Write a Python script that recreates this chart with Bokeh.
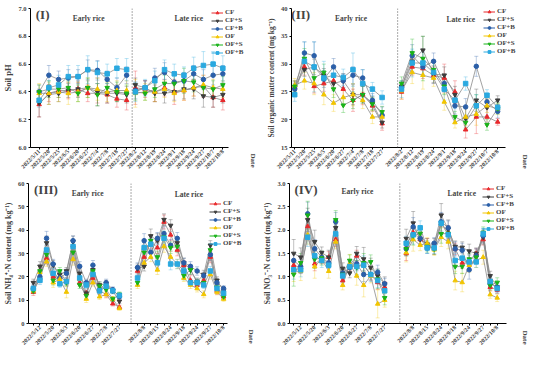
import math
from bokeh.plotting import figure
from bokeh.models import (ColumnDataSource, Whisker, TeeHead, FixedTicker, Span, Label,
                          Legend, LegendItem, Range1d, NumeralTickFormatter, Title)
from bokeh.layouts import row, column
from bokeh.embed import file_html
from bokeh.resources import INLINE

SERIES = ["CF", "CF+S", "CF+B", "OF", "OF+S", "OF+B"]
COLORS = ["#e8282b", "#3d3d3d", "#2b5fa8", "#f2c500", "#19b219", "#2aa9e0"]
MARKERS = ["triangle", "inverted_triangle", "circle", "triangle", "inverted_triangle", "square"]

# ---- dates ----
dates_early_10 = ["2022/5/11", "2022/5/20", "2022/5/25", "2022/6/5", "2022/6/20",
                  "2022/6/27", "2022/7/4", "2022/7/8", "2022/7/18", "2022/7/27"]
dates_late_10 = ["2022/8/2", "2022/8/12", "2022/8/19", "2022/8/24", "2022/9/1",
                 "2022/9/18", "2022/9/24", "2022/9/27", "2022/10/7", "2022/10/8"]
dates_early_14 = ["", "2022/5/12", "", "2022/5/20", "", "2022/6/3", "", "2022/6/20",
                  "", "2022/6/27", "", "2022/7/8", "", "2022/7/27"]
dates_late_14 = ["", "2022/8/8", "", "2022/8/15", "", "2022/8/24", "", "2022/9/18",
                 "", "2022/9/24", "", "2022/9/27", "", "2022/10/8"]

# ---- (I) soil pH : 10 early + 10 late ----
ph_cf = [6.31, 6.39, 6.41, 6.41, 6.42, 6.39, 6.39, 6.38, 6.35, 6.34,
         6.43, 6.42, 6.40, 6.43, 6.40, 6.41, 6.43, 6.44, 6.36, 6.34]
ph_cfs = [6.32, 6.38, 6.39, 6.41, 6.42, 6.43, 6.40, 6.39, 6.39, 6.38,
          6.45, 6.43, 6.39, 6.39, 6.40, 6.42, 6.42, 6.37, 6.36, 6.38]
ph_cfb = [6.40, 6.52, 6.49, 6.50, 6.51, 6.56, 6.555, 6.49, 6.43, 6.52,
          6.41, 6.43, 6.50, 6.54, 6.47, 6.48, 6.53, 6.49, 6.52, 6.53]
ph_of = [6.39, 6.39, 6.40, 6.39, 6.40, 6.43, 6.42, 6.40, 6.41, 6.41,
         6.39, 6.40, 6.40, 6.42, 6.39, 6.41, 6.43, 6.45, 6.43, 6.42]
ph_ofs = [6.40, 6.42, 6.42, 6.43, 6.39, 6.43, 6.38, 6.43, 6.40, 6.39,
          6.40, 6.39, 6.42, 6.46, 6.46, 6.48, 6.47, 6.43, 6.42, 6.45]
ph_ofb = [6.34, 6.43, 6.45, 6.51, 6.51, 6.56, 6.54, 6.53, 6.57, 6.56,
          6.40, 6.43, 6.48, 6.56, 6.53, 6.52, 6.57, 6.59, 6.60, 6.57]
ph_cf_err = [0.09, 0.06, 0.05, 0.06, 0.05, 0.06, 0.07, 0.06, 0.06, 0.07,
             0.12, 0.06, 0.07, 0.06, 0.09, 0.07, 0.06, 0.08, 0.07, 0.07]
ph_cfs_err = [0.10, 0.07, 0.06, 0.05, 0.06, 0.05, 0.10, 0.07, 0.06, 0.06,
              0.05, 0.05, 0.06, 0.07, 0.06, 0.07, 0.07, 0.08, 0.07, 0.06]
ph_cfb_err = [0.05, 0.07, 0.06, 0.06, 0.05, 0.07, 0.07, 0.06, 0.07, 0.06,
              0.06, 0.05, 0.07, 0.07, 0.06, 0.06, 0.06, 0.07, 0.07, 0.06]
ph_of_err = [0.07, 0.08, 0.07, 0.08, 0.07, 0.07, 0.08, 0.07, 0.07, 0.07,
             0.10, 0.06, 0.07, 0.06, 0.06, 0.07, 0.06, 0.07, 0.06, 0.06]
ph_ofs_err = [0.05, 0.06, 0.06, 0.05, 0.06, 0.07, 0.08, 0.06, 0.07, 0.06,
              0.06, 0.05, 0.06, 0.06, 0.07, 0.09, 0.07, 0.06, 0.06, 0.06]
ph_ofb_err = [0.05, 0.05, 0.07, 0.08, 0.08, 0.10, 0.08, 0.07, 0.07, 0.08,
              0.07, 0.06, 0.07, 0.07, 0.07, 0.06, 0.08, 0.10, 0.09, 0.09]

# ---- (II) soil organic matter ----
som_cf = [25.8, 29.5, 26.0, 26.5, 27.0, 25.5, 23.5, 24.5, 22.5, 19.3,
          25.0, 29.5, 29.2, 28.0, 27.5, 25.0, 18.2, 20.5, 20.5, 19.6]
som_cfs = [25.8, 29.0, 29.5, 28.0, 26.5, 27.0, 24.5, 24.5, 23.0, 19.5,
           26.0, 30.5, 32.5, 28.2, 28.0, 24.5, 20.2, 23.5, 22.2, 23.5]
som_cfb = [25.5, 32.0, 31.5, 27.3, 29.5, 27.0, 28.0, 27.5, 23.5, 20.8,
           25.8, 31.5, 29.5, 30.5, 26.5, 22.5, 22.3, 29.6, 23.2, 21.5]
som_of = [26.2, 27.0, 26.5, 24.5, 23.0, 24.0, 24.5, 23.5, 20.5, 20.5,
          25.2, 28.5, 28.0, 27.5, 23.2, 19.5, 20.5, 21.0, 22.5, 22.0]
som_ofs = [26.0, 31.0, 27.5, 28.5, 25.5, 22.6, 23.5, 24.5, 22.8, 21.4,
           26.5, 32.0, 31.0, 29.0, 26.0, 20.5, 19.5, 22.5, 19.1, 22.0]
som_ofb = [24.5, 30.5, 29.5, 27.5, 28.0, 27.6, 29.0, 26.5, 25.5, 24.0,
           25.5, 30.2, 30.2, 28.5, 25.5, 23.5, 26.5, 22.5, 24.4, 22.2]
som_cf_err = [1.2, 1.5, 1.2, 1.4, 1.3, 1.5, 2.0, 1.8, 1.0, 1.2,
              1.3, 1.5, 1.8, 1.5, 2.5, 2.0, 1.5, 3.0, 1.5, 0.6]
som_cfs_err = [1.0, 1.2, 1.4, 1.2, 1.3, 1.3, 1.8, 1.5, 1.2, 1.0,
               1.0, 1.8, 2.5, 1.5, 1.5, 1.5, 2.0, 2.0, 1.5, 0.8]
som_cfb_err = [1.0, 2.0, 2.5, 1.5, 1.5, 1.2, 1.5, 1.5, 1.2, 1.5,
               1.0, 2.0, 1.5, 1.5, 1.5, 1.5, 1.5, 1.8, 1.2, 1.2]
som_of_err = [1.2, 1.5, 2.0, 1.8, 1.5, 1.5, 2.0, 1.5, 1.2, 1.0,
              1.5, 2.0, 2.5, 1.5, 1.5, 1.0, 1.5, 2.0, 1.2, 1.0]
som_ofs_err = [1.0, 1.8, 1.5, 1.5, 1.5, 1.3, 1.5, 1.5, 1.2, 1.0,
               1.2, 2.5, 4.0, 1.5, 1.5, 1.0, 1.0, 2.0, 1.0, 1.0]
som_ofb_err = [1.2, 3.5, 4.5, 3.0, 1.5, 1.5, 3.0, 2.5, 1.2, 1.2,
               1.5, 2.5, 2.0, 2.0, 2.0, 1.5, 1.2, 2.0, 1.0, 1.0]

# ---- (III) soil NH4+-N : 14 early + 14 late ----
nh_cf = [13.5, 19.5, 28.0, 20.0, 20.0, 18.0, 33.5, 17.5, 13.0, 19.5, 14.0, 12.5, 8.5, 7.0,
         22.5, 28.5, 35.0, 32.5, 43.5, 38.0, 31.5, 25.0, 18.5, 16.5, 18.5, 28.5, 14.0, 11.5]
nh_cfs = [17.5, 24.5, 34.5, 25.0, 21.0, 22.5, 35.0, 21.5, 13.0, 23.0, 16.5, 17.0, 14.0, 9.5,
          23.5, 24.5, 37.5, 35.5, 44.5, 42.0, 34.5, 26.0, 23.0, 18.0, 21.0, 33.5, 18.5, 14.0]
nh_cfb = [15.0, 20.0, 36.5, 25.5, 19.5, 21.5, 35.5, 24.5, 17.5, 25.0, 14.5, 17.5, 14.5, 11.5,
          24.0, 35.5, 30.5, 36.5, 38.5, 33.5, 36.5, 26.0, 24.5, 22.5, 20.5, 29.5, 17.5, 15.0]
nh_of = [14.0, 22.0, 26.5, 17.5, 19.0, 13.5, 27.5, 19.0, 10.5, 17.5, 11.5, 12.5, 10.5, 6.5,
         16.5, 26.0, 28.5, 23.0, 33.0, 28.5, 25.5, 19.5, 16.5, 15.0, 12.5, 21.0, 13.5, 10.5]
nh_ofs = [14.0, 22.5, 29.5, 18.5, 22.5, 17.5, 30.5, 16.5, 12.0, 22.5, 16.0, 14.5, 10.5, 12.5,
          17.5, 30.5, 35.5, 28.5, 37.0, 32.5, 33.0, 20.5, 23.0, 17.5, 17.5, 31.5, 15.5, 11.5]
nh_ofb = [15.0, 18.5, 31.5, 21.5, 17.0, 18.0, 33.0, 19.5, 16.5, 21.0, 14.0, 16.0, 14.0, 12.0,
          19.5, 32.5, 34.0, 26.0, 36.5, 25.5, 25.5, 22.5, 17.5, 17.5, 16.5, 22.5, 15.0, 13.0]
nh_cf_err = [1.5, 2.0, 2.5, 2.0, 1.5, 1.5, 2.0, 1.5, 1.2, 2.0, 1.5, 1.5, 1.0, 0.8,
             2.0, 2.5, 3.0, 2.5, 3.0, 2.5, 2.5, 2.0, 2.0, 1.5, 1.5, 2.5, 1.5, 1.0]
nh_cfs_err = [1.5, 2.0, 3.0, 2.0, 1.8, 1.5, 2.5, 2.0, 1.2, 2.0, 1.5, 1.5, 1.2, 1.0,
              2.0, 2.0, 3.0, 3.0, 2.5, 2.5, 2.0, 2.0, 2.0, 1.5, 1.8, 2.0, 1.5, 1.2]
nh_cfb_err = [1.5, 2.0, 3.0, 2.0, 1.5, 1.8, 2.0, 2.0, 1.5, 2.0, 1.5, 1.5, 1.2, 1.0,
              2.0, 3.0, 2.5, 2.5, 3.0, 2.5, 2.5, 2.0, 2.0, 1.8, 1.5, 2.5, 1.5, 1.2]
nh_of_err = [1.2, 2.0, 2.0, 2.0, 1.8, 2.5, 2.5, 1.5, 1.5, 1.5, 1.2, 1.2, 1.0, 0.8,
             1.5, 2.0, 2.0, 2.0, 2.5, 2.5, 2.0, 1.5, 1.5, 1.5, 1.5, 2.0, 1.2, 1.0]
nh_ofs_err = [1.2, 2.0, 2.5, 2.0, 1.5, 1.5, 2.5, 1.5, 1.2, 2.0, 1.5, 1.5, 1.0, 1.0,
              1.5, 2.5, 2.5, 2.5, 2.5, 2.5, 2.5, 1.8, 1.8, 1.5, 1.5, 2.5, 1.2, 1.0]
nh_ofb_err = [1.5, 1.8, 2.5, 2.0, 1.5, 1.5, 3.0, 2.0, 1.5, 2.0, 1.5, 1.5, 1.2, 1.0,
              1.5, 2.5, 2.5, 2.5, 3.0, 2.5, 2.0, 2.0, 1.5, 1.5, 1.5, 2.0, 1.2, 1.0]

# ---- (IV) soil NO3--N : 14 early + 14 late ----
no_cf = [1.25, 1.20, 2.08, 1.28, 1.38, 1.42, 1.80, 0.92, 1.25, 1.45, 1.25, 1.05, 0.88, 0.78,
         1.50, 1.95, 1.80, 1.70, 1.60, 2.15, 1.95, 1.60, 1.30, 1.35, 1.50, 1.80, 0.78, 0.72]
no_cfs = [1.50, 1.42, 2.22, 1.75, 1.52, 1.42, 2.05, 1.18, 1.08, 1.50, 1.38, 1.20, 1.02, 0.85,
          1.82, 2.15, 1.80, 1.70, 1.70, 2.32, 2.02, 1.65, 1.63, 1.55, 1.50, 1.85, 1.02, 0.78]
no_cfb = [1.35, 1.22, 2.35, 1.60, 1.42, 1.30, 2.18, 1.08, 1.20, 1.28, 1.05, 1.05, 1.10, 0.85,
          1.60, 2.07, 1.82, 1.62, 1.72, 2.18, 2.05, 1.60, 1.57, 1.15, 1.45, 1.88, 0.85, 0.78]
no_of = [1.10, 1.12, 1.90, 1.22, 1.38, 1.12, 1.75, 0.82, 1.28, 1.02, 0.82, 1.02, 0.42, 0.50,
         1.52, 1.80, 1.68, 1.72, 1.58, 1.85, 1.75, 0.92, 0.88, 1.25, 1.35, 1.42, 0.62, 0.55]
no_ofs = [1.05, 1.30, 2.32, 1.38, 1.40, 1.25, 2.22, 1.05, 1.35, 1.20, 1.30, 1.32, 0.95, 0.55,
          1.60, 1.88, 1.93, 1.65, 1.60, 1.92, 1.93, 1.22, 1.22, 1.38, 1.42, 1.95, 0.82, 0.88]
no_ofb = [1.15, 1.15, 1.85, 1.45, 1.35, 1.25, 1.92, 1.02, 1.22, 1.22, 1.25, 1.05, 0.92, 0.70,
          1.72, 1.90, 2.05, 1.62, 1.62, 2.15, 1.90, 1.35, 1.40, 1.32, 1.32, 1.92, 0.90, 0.75]
no_cf_err = [0.10, 0.12, 0.20, 0.15, 0.10, 0.12, 0.15, 0.10, 0.12, 0.12, 0.15, 0.12, 0.15, 0.12,
             0.15, 0.15, 0.12, 0.12, 0.12, 0.20, 0.15, 0.12, 0.12, 0.12, 0.10, 0.12, 0.08, 0.08]
no_cfs_err = [0.30, 0.20, 0.25, 0.25, 0.12, 0.15, 0.20, 0.12, 0.10, 0.15, 0.25, 0.20, 0.15, 0.15,
              0.20, 0.25, 0.12, 0.12, 0.12, 0.25, 0.20, 0.12, 0.12, 0.15, 0.12, 0.15, 0.10, 0.10]
no_cfb_err = [0.15, 0.15, 0.25, 0.20, 0.12, 0.12, 0.20, 0.12, 0.12, 0.15, 0.15, 0.12, 0.15, 0.12,
              0.15, 0.20, 0.12, 0.12, 0.12, 0.20, 0.15, 0.15, 0.15, 0.20, 0.15, 0.15, 0.10, 0.10]
no_of_err = [0.20, 0.20, 0.20, 0.25, 0.10, 0.15, 0.15, 0.10, 0.20, 0.20, 0.25, 0.15, 0.30, 0.15,
             0.20, 0.25, 0.12, 0.12, 0.12, 0.20, 0.15, 0.20, 0.20, 0.15, 0.15, 0.15, 0.08, 0.08]
no_ofs_err = [0.25, 0.20, 0.30, 0.20, 0.15, 0.15, 0.20, 0.15, 0.12, 0.15, 0.20, 0.15, 0.20, 0.15,
              0.15, 0.20, 0.12, 0.12, 0.12, 0.20, 0.15, 0.15, 0.15, 0.12, 0.12, 0.12, 0.10, 0.10]
no_ofb_err = [0.20, 0.15, 0.20, 0.20, 0.15, 0.15, 0.20, 0.15, 0.15, 0.20, 0.20, 0.15, 0.15, 0.15,
              0.15, 0.20, 0.15, 0.12, 0.12, 0.20, 0.15, 0.15, 0.15, 0.15, 0.12, 0.12, 0.10, 0.10]

SERIF = "Liberation Serif"


def make_panel(width, height, borders, xpos, xlabels, x_span, axis_end, y_span, yticks, yfmt,
               vals, errs, ylabel, ylabel_size, tag, tag_x, divider, titles, legend_xy):
    bl, br, bt, bb = borders
    frame_h = height - bt - bb
    p = figure(width=width, height=height, output_backend="svg", toolbar_location=None,
               x_range=Range1d(*x_span), y_range=Range1d(*y_span),
               min_border_left=bl, min_border_right=br, min_border_top=bt,
               min_border_bottom=bb)
    p.grid.visible = False
    p.outline_line_color = None

    ax = p.xaxis[0]
    ax.bounds = (x_span[0], axis_end)
    ax.ticker = FixedTicker(ticks=xpos)
    ax.major_label_overrides = {x: lab for x, lab in zip(xpos, xlabels)}
    ax.major_label_orientation = math.pi / 4
    ax.major_label_text_font = SERIF
    ax.major_label_text_font_style = "bold"
    ax.major_label_text_font_size = "6px"
    ax.major_label_standoff = 1
    ax.major_tick_in = 0
    ax.major_tick_out = 2
    ax.minor_tick_line_color = None
    ay = p.yaxis[0]
    ay.ticker = FixedTicker(ticks=yticks)
    ay.formatter = NumeralTickFormatter(format=yfmt)
    ay.major_label_text_font = SERIF
    ay.major_label_text_font_style = "bold"
    ay.major_label_text_font_size = "6.5px"
    ay.major_label_standoff = 2
    ay.major_tick_in = 0
    ay.major_tick_out = 2
    ay.minor_tick_line_color = None
    ay.axis_label = ylabel
    ay.axis_label_text_font = SERIF
    ay.axis_label_text_font_style = "bold"
    ay.axis_label_text_font_size = ylabel_size
    ay.axis_label_standoff = 2

    p.add_layout(Span(location=divider, dimension="height", line_color="#555555",
                      line_dash="1 2", line_width=1))

    n = len(xpos)
    for vals_s, errs_s, color in zip(vals, errs, COLORS):
        src = ColumnDataSource(dict(
            x=xpos, y=vals_s,
            lo=[v - e for v, e in zip(vals_s, errs_s)],
            hi=[v + e for v, e in zip(vals_s, errs_s)]))
        p.add_layout(Whisker(base="x", lower="lo", upper="hi", source=src,
                             line_color=color, line_alpha=0.4, line_width=0.8,
                             upper_head=TeeHead(size=4, line_color=color, line_alpha=0.4, line_width=0.8),
                             lower_head=TeeHead(size=4, line_color=color, line_alpha=0.4, line_width=0.8)))
    half = n // 2
    for vals_s in vals:
        p.line(xpos[:half], vals_s[:half], line_color="#8a8a8a", line_width=0.8)
        p.line(xpos[half:], vals_s[half:], line_color="#8a8a8a", line_width=0.8)
    for vals_s, color, marker in zip(vals, COLORS, MARKERS):
        p.scatter(xpos, vals_s, marker=marker, size=4.5, fill_color=color, line_color=color)

    # legend proxies: single points placed outside the visible x range
    off = x_span[0] - 100
    items = []
    for name, color, marker in zip(SERIES, COLORS, MARKERS):
        rl = p.line([off, off - 1], [y_span[0], y_span[0]], line_color=color, line_width=1)
        rs = p.scatter([off], [y_span[0]], marker=marker, size=4.5, fill_color=color,
                       line_color=color)
        items.append(LegendItem(label=name, renderers=[rl, rs]))
    leg = Legend(items=items, location=legend_xy, glyph_width=12, glyph_height=7,
                 label_height=7, spacing=0, padding=0, margin=0, label_standoff=2,
                 label_text_font=SERIF, label_text_font_style="bold",
                 label_text_font_size="7px", border_line_color=None,
                 background_fill_alpha=0)
    p.add_layout(leg)

    for tx, ty, tt in titles:
        p.add_layout(Label(x=tx, y=ty, text=tt, text_align="center", text_baseline="middle",
                           text_font=SERIF, text_font_style="bold", text_font_size="7.5px"))
    p.add_layout(Label(x=tag_x, y=y_span[1], y_offset=-6, text=tag, text_align="left",
                       text_baseline="middle", text_font=SERIF, text_font_style="bold",
                       text_font_size="13px"))
    p.add_layout(Title(text="Date", align="left", offset=frame_h + 6, standoff=1,
                       text_font=SERIF, text_font_style="bold", text_font_size="7px"),
                 "right")
    return p


# x positions (layout only)
x1 = [float(i) for i in range(10)] + [round(9.9 + i, 2) for i in range(10)]
x2 = [float(i) for i in range(10)] + [round(11 + 1.1 * i, 2) for i in range(10)]
x3 = [float(i) for i in range(14)] + [round(15.74 + i, 2) for i in range(14)]
x4 = [float(i) for i in range(14)] + [round(16.07 + i, 2) for i in range(14)]

p1 = make_panel(262, 177, (28, 14, 8, 30), x1, dates_early_10 + dates_late_10,
                (-0.89, 21.54), 19.47, (6.0, 7.0), [6.0, 6.2, 6.4, 6.6, 6.8, 7.0], "0.0",
                [ph_cf, ph_cfs, ph_cfb, ph_of, ph_ofs, ph_ofb],
                [ph_cf_err, ph_cfs_err, ph_cfb_err, ph_of_err, ph_ofs_err, ph_ofb_err],
                "Soil pH", "8.5px", "(I)", -0.35, 9.57,
                [(5.1, 6.925, "Early rice"), (15.4, 6.925, "Late rice")], (181, 91))
p2 = make_panel(272, 177, (29, 14, 7, 30), x2, dates_early_10 + dates_late_10,
                (-0.33, 23.25), 21.67, (15, 40), [15, 20, 25, 30, 35, 40], "0",
                [som_cf, som_cfs, som_cfb, som_of, som_ofs, som_ofb],
                [som_cf_err, som_cfs_err, som_cfb_err, som_of_err, som_ofs_err, som_ofb_err],
                "Soil organic matter content (mg kg\u207b\u00b9)", "7.5px", "(II)", -0.35, 10.6,
                [(5.8, 38.2, "Early rice"), (17.1, 38.0, "Late rice")], (192, 92))
p3 = make_panel(260, 176, (28, 14, 6, 30), x3, dates_early_14 + dates_late_14,
                (-0.73, 32.2), 29.4, (0, 60), [0, 10, 20, 30, 40, 50, 60], "0",
                [nh_cf, nh_cfs, nh_cfb, nh_of, nh_ofs, nh_ofb],
                [nh_cf_err, nh_cfs_err, nh_cfb_err, nh_of_err, nh_ofs_err, nh_ofb_err],
                "Soil NH\u2084\u207a-N content (mg kg\u207b\u00b9)", "8px", "(III)", 0.1, 14.76,
                [(8.2, 55.7, "Early rice"), (23.5, 55.2, "Late rice")], (181, 76))
p4 = make_panel(274, 176, (26, 14, 6, 29), x4, dates_early_14 + dates_late_14,
                (-0.6, 32.4), 30.45, (0, 3), [0, 0.5, 1.0, 1.5, 2.0, 2.5, 3.0], "0.0",
                [no_cf, no_cfs, no_cfb, no_of, no_ofs, no_ofb],
                [no_cf_err, no_cfs_err, no_cfb_err, no_of_err, no_ofs_err, no_ofb_err],
                "Soil NO\u2083\u207b-N content (mg kg\u207b\u00b9)", "8px", "(IV)", 0.1, 15.16,
                [(9.1, 2.82, "Early rice"), (24.0, 2.79, "Late rice")], (193, 91))

layout = column(row(p1, p2), row(p3, p4))
open("out.html", "w").write(file_html(layout, INLINE))
